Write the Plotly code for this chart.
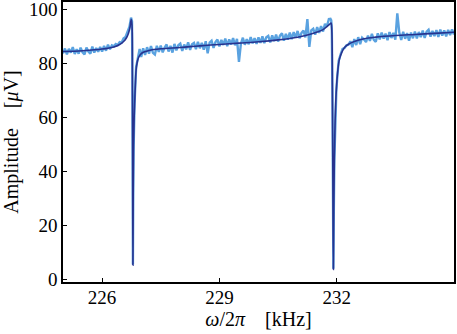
import plotly.graph_objects as go

# measured (noisy) amplitude data, kHz / microvolt
data_x = [
    225.00, 225.05, 225.10, 225.15, 225.20, 225.25, 225.30, 225.35, 225.40, 225.45,
    225.50, 225.55, 225.60, 225.65, 225.70, 225.75, 225.80, 225.85, 225.90, 225.95,
    226.00, 226.05, 226.10, 226.15, 226.20, 226.25, 226.30, 226.35, 226.40, 226.45,
    226.50, 226.55, 226.60, 226.65, 226.70, 226.74, 226.765, 226.775, 226.782, 226.788,
    226.795, 226.805, 226.82, 226.83, 226.87, 226.92, 226.96,
    227.00, 227.05, 227.10, 227.15, 227.20, 227.25, 227.30, 227.35, 227.40, 227.45,
    227.50, 227.55, 227.60, 227.65, 227.70, 227.75, 227.80, 227.85, 227.90, 227.95,
    228.00, 228.05, 228.10, 228.15, 228.20, 228.25, 228.30, 228.35, 228.40, 228.45,
    228.50, 228.55, 228.60, 228.65, 228.70, 228.75, 228.80, 228.85, 228.90, 228.95,
    229.00, 229.05, 229.10, 229.15, 229.20, 229.25, 229.30, 229.35, 229.40, 229.45,
    229.50, 229.55, 229.60, 229.65, 229.70, 229.75, 229.80, 229.85, 229.90, 229.95,
    230.00, 230.05, 230.10, 230.15, 230.20, 230.25, 230.30, 230.35, 230.40, 230.45,
    230.50, 230.55, 230.60, 230.65, 230.70, 230.75, 230.80, 230.85, 230.90, 230.95,
    231.00, 231.05, 231.10, 231.15, 231.20, 231.25, 231.30, 231.35, 231.40, 231.45,
    231.50, 231.55, 231.60, 231.65, 231.70, 231.75, 231.80, 231.84, 231.86, 231.875,
    231.89, 231.903, 231.915, 231.925, 231.94, 231.96, 231.99,
    232.01, 232.05, 232.10, 232.15, 232.20, 232.25, 232.30, 232.35, 232.40, 232.45,
    232.50, 232.55, 232.60, 232.65, 232.70, 232.75, 232.80, 232.85, 232.90, 232.95,
    233.00, 233.05, 233.10, 233.15, 233.20, 233.25, 233.30, 233.35, 233.40, 233.45,
    233.50, 233.55, 233.60, 233.65, 233.70, 233.75, 233.80, 233.85, 233.90, 233.95,
    234.00, 234.05, 234.10, 234.15, 234.20, 234.25, 234.30, 234.35, 234.40, 234.45,
    234.50, 234.55, 234.60, 234.65, 234.70, 234.75, 234.80, 234.85, 234.90, 234.95,
    235.00,
]
data_y = [
    83.6, 85.4, 83.2, 85.3, 83.9, 85.9, 83.4, 85.1, 83.5, 85.7,
    84.0, 83.2, 85.8, 84.3, 83.5, 86.1, 83.9, 85.6, 84.2, 86.0,
    84.3, 86.4, 84.6, 86.8, 85.1, 86.6, 86.2, 87.1, 86.7, 87.8,
    87.6, 89.2, 89.7, 91.3, 93.5, 96.8, 95.5, 76.0, 42.0, 5.6,
    28.0, 48.0, 61.0, 65.0, 78.5, 81.8, 85.2,
    82.3, 85.5, 83.0, 85.9, 83.5, 86.3, 83.8, 83.2, 86.4, 84.2,
    86.5, 84.0, 85.8, 86.9, 84.3, 86.4, 83.9, 87.1, 84.7, 86.6,
    87.2, 84.5, 86.9, 85.1, 87.7, 84.9, 87.0, 87.5, 85.2, 87.9,
    85.5, 87.5, 85.0, 88.1, 83.6, 87.6, 88.3, 85.6, 87.8, 88.7,
    86.2, 88.6, 86.7, 89.1, 86.3, 88.8, 86.9, 89.3, 86.6, 89.0,
    80.5, 87.2, 89.4, 86.8, 88.9, 87.0, 89.6, 87.3, 89.2, 87.1,
    89.5, 87.5, 89.9, 87.4, 89.6, 90.1, 87.7, 90.3, 88.1, 90.6,
    88.0, 90.2, 91.0, 88.3, 90.8, 88.7, 91.3, 88.9, 91.5, 89.4,
    91.9, 89.2, 91.2, 92.0, 89.5, 96.3, 86.0, 92.1, 92.7, 90.5,
    93.3, 91.2, 93.7, 91.7, 94.5, 93.6, 96.3, 96.4, 95.8, 92.5,
    71.0, 36.0, 4.0, 24.0, 44.0, 58.0, 69.5,
    74.0, 80.8, 83.2, 85.3, 85.6, 86.6, 86.8, 88.1, 85.9, 88.9,
    86.7, 89.6, 87.0, 89.4, 88.7, 87.8, 90.2, 88.2, 90.8, 88.6,
    87.9, 91.0, 88.8, 91.3, 89.1, 90.9, 88.5, 91.5, 89.3, 91.2,
    88.7, 98.4, 91.4, 88.6, 91.6, 89.0, 91.1, 88.3, 91.3, 89.2,
    91.7, 89.1, 91.5, 89.6, 92.0, 89.3, 91.6, 92.3, 89.8, 91.9,
    90.0, 92.2, 89.7, 92.4, 90.2, 92.1, 89.9, 92.3, 90.4, 92.5,
    90.6,
]

# fitted model curve
fit_x = [
    225.00, 225.50, 226.00, 226.30, 226.45, 226.55, 226.62, 226.67, 226.71, 226.745,
    226.765, 226.775, 226.782, 226.788, 226.795, 226.805, 226.82, 226.83, 226.85, 226.87,
    226.90, 226.93, 226.98, 227.05, 227.20, 227.50, 228.00, 228.50, 229.00, 229.50,
    230.00, 230.50, 231.00, 231.30, 231.50, 231.65, 231.75, 231.82, 231.855, 231.875,
    231.89, 231.903, 231.915, 231.925, 231.94, 231.96, 231.99, 232.03, 232.07, 232.13,
    232.20, 232.30, 232.45, 232.70, 233.00, 233.50, 234.00, 234.50, 235.00,
]
fit_y = [
    84.3, 84.6, 85.2, 86.0, 86.9, 88.0, 89.3, 90.9, 93.0, 96.2,
    94.0, 75.0, 40.0, 5.3, 30.0, 50.0, 60.0, 64.0, 72.0, 77.5,
    80.5, 82.0, 83.2, 84.0, 84.7, 85.3, 85.8, 86.4, 86.9, 87.4,
    87.9, 88.6, 89.6, 90.6, 91.5, 92.4, 93.5, 94.4, 94.8, 92.0,
    70.0, 35.0, 3.7, 25.0, 45.0, 59.0, 70.0, 77.5, 81.5, 84.0,
    85.8, 87.0, 88.0, 89.0, 89.6, 90.2, 90.6, 91.0, 91.4,
]

x_ticks = [226, 229, 232]
y_ticks = [0, 20, 40, 60, 80, 100]

FONT = "Liberation Serif"

fig = go.Figure()
fig.add_trace(go.Scatter(x=data_x, y=data_y, mode="lines",
                         line=dict(color="#5aa2e0", width=2.4),
                         showlegend=False, hoverinfo="skip"))
fig.add_trace(go.Scatter(x=fit_x, y=fit_y, mode="lines", line_shape="spline",
                         line=dict(color="#27338f", width=1.6),
                         showlegend=False, hoverinfo="skip"))

axis_common = dict(showline=True, linecolor="black", linewidth=1.5, mirror=True,
                   ticks="inside", ticklen=4, tickwidth=1.2, tickcolor="black",
                   showgrid=False, zeroline=False, automargin=False,
                   ticklabeloverflow="allow",
                   tickfont=dict(family=FONT, size=19, color="black"))

fig.update_xaxes(range=[225.0, 235.0], tickvals=x_ticks,
                 ticktext=[str(v) for v in x_ticks],
                 ticklabelstandoff=-3,
                 title=dict(text="<i>ω</i>/2<i>π</i>    [kHz]",
                            font=dict(family=FONT, size=20, color="black"),
                            standoff=4),
                 **axis_common)
fig.update_yaxes(range=[-0.9, 102.6], tickvals=y_ticks,
                 ticktext=[str(v) for v in y_ticks],
                 title=dict(text="Amplitude    [<i>μ</i>V]",
                            font=dict(family=FONT, size=20, color="black"),
                            standoff=12),
                 **axis_common)

fig.update_layout(width=457, height=334,
                  margin=dict(l=63, r=3, t=2, b=52),
                  paper_bgcolor="white", plot_bgcolor="white")

fig.write_html("out.html", config={"displayModeBar": False},
               post_script="document.body.style.margin='0';document.body.style.padding='0';")
